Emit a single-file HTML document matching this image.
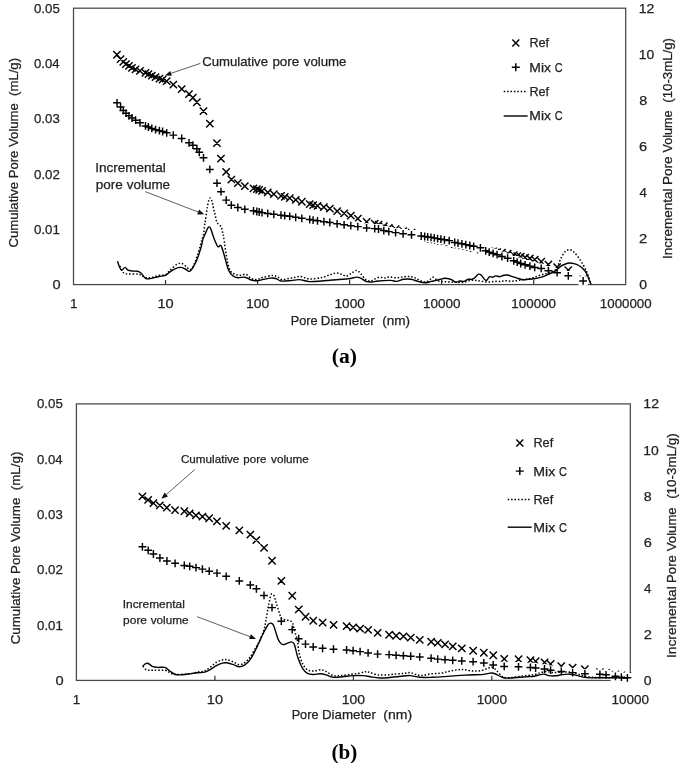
<!DOCTYPE html>
<html><head><meta charset="utf-8"><title>Pore volume</title>
<style>html,body{margin:0;padding:0;background:#fff}svg{display:block;will-change:transform}text{font-family:"Liberation Sans",sans-serif}</style>
</head><body>
<svg width="685" height="763" viewBox="0 0 685 763">
<rect width="685" height="763" fill="#fff"/>
<rect x="73.5" y="8.2" width="552.20" height="276.40" fill="none" stroke="#484848" stroke-width="1.25"/>
<path d="M165.5 284.6v-4.6M257.6 284.6v-4.6M349.6 284.6v-4.6M441.6 284.6v-4.6M533.7 284.6v-4.6" stroke="#333" stroke-width="1.2"/>
<path d="M113.3 51.1l7.3 7.3M113.3 58.4l7.3 -7.3M116.9 55.5l7.3 7.3M116.9 62.8l7.3 -7.3M119.6 58.2l7.3 7.3M119.6 65.5l7.3 -7.3M122.3 60.4l7.3 7.3M122.3 67.7l7.3 -7.3M125.3 62.3l7.3 7.3M125.3 69.6l7.3 -7.3M128.3 64.2l7.3 7.3M128.3 71.5l7.3 -7.3M131.9 65.7l7.3 7.3M131.9 73.0l7.3 -7.3M136.3 67.2l7.3 7.3M136.3 74.5l7.3 -7.3M141.8 69.3l7.3 7.3M141.8 76.6l7.3 -7.3M144.8 70.5l7.3 7.3M144.8 77.8l7.3 -7.3M148.2 71.9l7.3 7.3M148.2 79.2l7.3 -7.3M151.9 73.4l7.3 7.3M151.9 80.7l7.3 -7.3M155.8 75.0l7.3 7.3M155.8 82.3l7.3 -7.3M158.9 75.9l7.3 7.3M158.9 83.2l7.3 -7.3M163.0 77.5l7.3 7.3M163.0 84.8l7.3 -7.3M169.7 80.9l7.3 7.3M169.7 88.2l7.3 -7.3M178.0 85.3l7.3 7.3M178.0 92.7l7.3 -7.3M185.3 90.3l7.3 7.3M185.3 97.7l7.3 -7.3M189.2 94.0l7.3 7.3M189.2 101.4l7.3 -7.3M193.2 98.6l7.3 7.3M193.2 105.9l7.3 -7.3M199.8 107.4l7.3 7.3M199.8 114.8l7.3 -7.3M206.2 120.0l7.3 7.3M206.2 127.4l7.3 -7.3M213.3 139.5l7.3 7.3M213.3 146.8l7.3 -7.3M217.3 155.0l7.3 7.3M217.3 162.3l7.3 -7.3M222.5 168.2l7.3 7.3M222.5 175.5l7.3 -7.3M227.7 175.8l7.3 7.3M227.7 183.2l7.3 -7.3M234.2 179.5l7.3 7.3M234.2 186.8l7.3 -7.3M241.2 182.5l7.3 7.3M241.2 189.8l7.3 -7.3M249.8 184.7l7.3 7.3M249.8 192.0l7.3 -7.3M253.2 185.4l7.3 7.3M253.2 192.8l7.3 -7.3M255.5 186.3l7.3 7.3M255.5 193.6l7.3 -7.3M258.4 187.2l7.3 7.3M258.4 194.5l7.3 -7.3M264.1 188.8l7.3 7.3M264.1 196.1l7.3 -7.3M270.2 190.5l7.3 7.3M270.2 197.8l7.3 -7.3M277.4 192.2l7.3 7.3M277.4 199.6l7.3 -7.3M281.1 193.2l7.3 7.3M281.1 200.5l7.3 -7.3M286.1 194.5l7.3 7.3M286.1 201.8l7.3 -7.3M292.1 196.3l7.3 7.3M292.1 203.6l7.3 -7.3M298.2 198.1l7.3 7.3M298.2 205.4l7.3 -7.3M306.1 200.4l7.3 7.3M306.1 207.7l7.3 -7.3M309.5 201.5l7.3 7.3M309.5 208.8l7.3 -7.3M313.9 202.3l7.3 7.3M313.9 209.6l7.3 -7.3M320.2 203.5l7.3 7.3M320.2 210.8l7.3 -7.3M326.2 205.0l7.3 7.3M326.2 212.3l7.3 -7.3M333.5 207.4l7.3 7.3M333.5 214.7l7.3 -7.3M340.5 209.8l7.3 7.3M340.5 217.1l7.3 -7.3M347.2 212.0l7.3 7.3M347.2 219.3l7.3 -7.3M354.2 215.0l7.3 7.3M354.2 222.3l7.3 -7.3M363.0 218.3l7.3 7.3M363.0 225.6l7.3 -7.3M371.1 219.9l7.3 7.3M371.1 227.2l7.3 -7.3M374.9 221.0l7.3 7.3M374.9 228.3l7.3 -7.3M380.2 222.3l7.3 7.3M380.2 229.7l7.3 -7.3M385.2 224.2l7.3 7.3M385.2 231.5l7.3 -7.3M392.0 225.5l7.3 7.3M392.0 232.8l7.3 -7.3M399.5 227.3l7.3 7.3M399.5 234.7l7.3 -7.3M407.9 228.9l7.3 7.3M407.9 236.2l7.3 -7.3M417.6 232.2l7.3 7.3M417.6 239.5l7.3 -7.3M421.1 233.3l7.3 7.3M421.1 240.6l7.3 -7.3M424.1 234.2l7.3 7.3M424.1 241.5l7.3 -7.3M427.4 235.2l7.3 7.3M427.4 242.5l7.3 -7.3M430.7 235.8l7.3 7.3M430.7 243.1l7.3 -7.3M434.0 236.5l7.3 7.3M434.0 243.8l7.3 -7.3M437.2 237.2l7.3 7.3M437.2 244.5l7.3 -7.3M440.8 237.7l7.3 7.3M440.8 245.0l7.3 -7.3M445.6 238.5l7.3 7.3M445.6 245.8l7.3 -7.3M451.1 240.3l7.3 7.3M451.1 247.7l7.3 -7.3M454.4 241.0l7.3 7.3M454.4 248.3l7.3 -7.3M458.2 241.8l7.3 7.3M458.2 249.1l7.3 -7.3M462.2 242.5l7.3 7.3M462.2 249.8l7.3 -7.3M466.2 243.5l7.3 7.3M466.2 250.8l7.3 -7.3M470.1 244.3l7.3 7.3M470.1 251.7l7.3 -7.3M476.8 245.8l7.3 7.3M476.8 253.2l7.3 -7.3M482.1 246.7l7.3 7.3M482.1 254.0l7.3 -7.3M485.6 247.2l7.3 7.3M485.6 254.5l7.3 -7.3M489.5 247.8l7.3 7.3M489.5 255.1l7.3 -7.3M493.5 248.4l7.3 7.3M493.5 255.7l7.3 -7.3M498.2 249.0l7.3 7.3M498.2 256.3l7.3 -7.3M504.0 250.1l7.3 7.3M504.0 257.4l7.3 -7.3M510.1 251.6l7.3 7.3M510.1 258.9l7.3 -7.3M513.6 252.4l7.3 7.3M513.6 259.7l7.3 -7.3M517.1 253.2l7.3 7.3M517.1 260.4l7.3 -7.3M521.5 253.9l7.3 7.3M521.5 261.2l7.3 -7.3M526.2 254.8l7.3 7.3M526.2 262.1l7.3 -7.3M531.1 255.9l7.3 7.3M531.1 263.2l7.3 -7.3M537.6 258.1l7.3 7.3M537.6 265.4l7.3 -7.3M544.8 260.9l7.3 7.3M544.8 268.1l7.3 -7.3M553.5 263.5l7.3 7.3M553.5 270.8l7.3 -7.3M564.6 266.5l7.3 7.3M564.6 273.8l7.3 -7.3M579.5 275.7l7.3 7.3M579.5 282.9l7.3 -7.3" stroke="#000" stroke-width="1.45" fill="none"/>
<path d="M112.3 98.1h9.4v9.4h-9.4zM115.9 102.3h9.4v9.4h-9.4zM118.6 105.8h9.4v9.4h-9.4zM121.3 108.5h9.4v9.4h-9.4zM124.3 111.1h9.4v9.4h-9.4zM127.3 113.3h9.4v9.4h-9.4zM130.9 115.5h9.4v9.4h-9.4zM135.3 118.1h9.4v9.4h-9.4zM140.8 121.2h9.4v9.4h-9.4zM143.7 122.3h9.4v9.4h-9.4zM147.1 123.7h9.4v9.4h-9.4zM150.9 125.0h9.4v9.4h-9.4zM154.7 126.0h9.4v9.4h-9.4zM157.9 126.8h9.4v9.4h-9.4zM162.0 128.1h9.4v9.4h-9.4zM168.6 130.4h9.4v9.4h-9.4zM177.0 133.8h9.4v9.4h-9.4zM184.3 138.1h9.4v9.4h-9.4zM188.2 140.5h9.4v9.4h-9.4zM192.2 144.0h9.4v9.4h-9.4zM194.6 147.6h9.4v9.4h-9.4zM198.8 153.1h9.4v9.4h-9.4zM205.1 164.7h9.4v9.4h-9.4zM212.3 178.5h9.4v9.4h-9.4zM216.3 187.0h9.4v9.4h-9.4zM221.5 195.4h9.4v9.4h-9.4zM226.6 200.5h9.4v9.4h-9.4zM233.1 202.8h9.4v9.4h-9.4zM240.1 204.6h9.4v9.4h-9.4zM248.8 206.1h9.4v9.4h-9.4zM252.1 206.8h9.4v9.4h-9.4zM254.5 207.3h9.4v9.4h-9.4zM257.3 207.9h9.4v9.4h-9.4zM263.0 208.7h9.4v9.4h-9.4zM269.1 209.6h9.4v9.4h-9.4zM276.3 210.5h9.4v9.4h-9.4zM280.0 211.0h9.4v9.4h-9.4zM285.0 211.6h9.4v9.4h-9.4zM291.0 212.6h9.4v9.4h-9.4zM297.1 213.6h9.4v9.4h-9.4zM305.0 214.8h9.4v9.4h-9.4zM308.4 215.4h9.4v9.4h-9.4zM312.8 216.1h9.4v9.4h-9.4zM319.2 217.0h9.4v9.4h-9.4zM325.1 217.8h9.4v9.4h-9.4zM332.4 219.1h9.4v9.4h-9.4zM339.4 220.1h9.4v9.4h-9.4zM346.1 221.0h9.4v9.4h-9.4zM353.1 221.9h9.4v9.4h-9.4zM361.9 223.2h9.4v9.4h-9.4zM370.0 223.9h9.4v9.4h-9.4zM373.8 224.3h9.4v9.4h-9.4zM379.1 225.9h9.4v9.4h-9.4zM384.1 226.9h9.4v9.4h-9.4zM390.9 227.9h9.4v9.4h-9.4zM398.4 229.1h9.4v9.4h-9.4zM406.8 230.1h9.4v9.4h-9.4zM416.5 231.3h9.4v9.4h-9.4zM420.0 231.8h9.4v9.4h-9.4zM423.0 232.2h9.4v9.4h-9.4zM426.3 232.6h9.4v9.4h-9.4zM429.6 233.2h9.4v9.4h-9.4zM432.9 233.9h9.4v9.4h-9.4zM436.2 234.5h9.4v9.4h-9.4zM439.7 235.1h9.4v9.4h-9.4zM444.5 235.9h9.4v9.4h-9.4zM450.0 237.7h9.4v9.4h-9.4zM453.3 238.4h9.4v9.4h-9.4zM457.2 239.1h9.4v9.4h-9.4zM461.1 239.9h9.4v9.4h-9.4zM465.1 240.8h9.4v9.4h-9.4zM469.0 241.6h9.4v9.4h-9.4zM475.7 243.1h9.4v9.4h-9.4zM481.0 246.1h9.4v9.4h-9.4zM484.5 247.4h9.4v9.4h-9.4zM488.4 248.7h9.4v9.4h-9.4zM492.4 250.0h9.4v9.4h-9.4zM497.2 251.8h9.4v9.4h-9.4zM502.9 253.5h9.4v9.4h-9.4zM509.0 256.1h9.4v9.4h-9.4zM512.5 257.4h9.4v9.4h-9.4zM516.0 258.8h9.4v9.4h-9.4zM520.4 260.1h9.4v9.4h-9.4zM525.2 261.4h9.4v9.4h-9.4zM530.0 262.7h9.4v9.4h-9.4zM536.5 263.7h9.4v9.4h-9.4zM543.7 266.0h9.4v9.4h-9.4zM552.4 268.0h9.4v9.4h-9.4zM563.6 271.1h9.4v9.4h-9.4zM578.4 276.2h9.4v9.4h-9.4z" fill="#fff"/>
<path d="M113.1 102.8h7.8M117.0 98.9v7.8M116.7 107.0h7.8M120.6 103.1v7.8M119.4 110.5h7.8M123.3 106.6v7.8M122.1 113.2h7.8M126.0 109.3v7.8M125.1 115.8h7.8M129.0 111.9v7.8M128.1 118.0h7.8M132.0 114.1v7.8M131.7 120.2h7.8M135.6 116.3v7.8M136.1 122.8h7.8M140.0 118.9v7.8M141.6 125.9h7.8M145.5 122.0v7.8M144.5 127.0h7.8M148.4 123.1v7.8M147.9 128.4h7.8M151.8 124.5v7.8M151.7 129.7h7.8M155.6 125.8v7.8M155.5 130.7h7.8M159.4 126.8v7.8M158.7 131.5h7.8M162.6 127.6v7.8M162.8 132.8h7.8M166.7 128.9v7.8M169.4 135.1h7.8M173.3 131.2v7.8M177.8 138.5h7.8M181.7 134.6v7.8M185.1 142.8h7.8M189.0 138.9v7.8M189.0 145.2h7.8M192.9 141.3v7.8M193.0 148.7h7.8M196.9 144.8v7.8M195.4 152.3h7.8M199.3 148.4v7.8M199.6 157.8h7.8M203.5 153.9v7.8M205.9 169.4h7.8M209.8 165.5v7.8M213.1 183.2h7.8M217.0 179.3v7.8M217.1 191.7h7.8M221.0 187.8v7.8M222.3 200.1h7.8M226.2 196.2v7.8M227.4 205.2h7.8M231.3 201.3v7.8M233.9 207.5h7.8M237.8 203.6v7.8M240.9 209.3h7.8M244.8 205.4v7.8M249.6 210.8h7.8M253.5 206.9v7.8M252.9 211.5h7.8M256.8 207.6v7.8M255.3 212.0h7.8M259.2 208.1v7.8M258.1 212.6h7.8M262.0 208.7v7.8M263.8 213.4h7.8M267.7 209.5v7.8M269.9 214.3h7.8M273.8 210.4v7.8M277.1 215.2h7.8M281.0 211.3v7.8M280.8 215.7h7.8M284.7 211.8v7.8M285.8 216.3h7.8M289.7 212.4v7.8M291.8 217.3h7.8M295.7 213.4v7.8M297.9 218.3h7.8M301.8 214.4v7.8M305.8 219.5h7.8M309.7 215.6v7.8M309.2 220.1h7.8M313.1 216.2v7.8M313.6 220.8h7.8M317.5 216.9v7.8M320.0 221.7h7.8M323.9 217.8v7.8M325.9 222.5h7.8M329.8 218.6v7.8M333.2 223.8h7.8M337.1 219.9v7.8M340.2 224.8h7.8M344.1 220.9v7.8M346.9 225.7h7.8M350.8 221.8v7.8M353.9 226.6h7.8M357.8 222.7v7.8M362.7 227.9h7.8M366.6 224.0v7.8M370.8 228.6h7.8M374.7 224.7v7.8M374.6 229.0h7.8M378.5 225.1v7.8M379.9 230.6h7.8M383.8 226.7v7.8M384.9 231.6h7.8M388.8 227.7v7.8M391.7 232.6h7.8M395.6 228.7v7.8M399.2 233.8h7.8M403.1 229.9v7.8M407.6 234.8h7.8M411.5 230.9v7.8M417.3 236.0h7.8M421.2 232.1v7.8M420.8 236.5h7.8M424.7 232.6v7.8M423.8 236.9h7.8M427.7 233.0v7.8M427.1 237.3h7.8M431.0 233.4v7.8M430.4 237.9h7.8M434.3 234.0v7.8M433.7 238.6h7.8M437.6 234.7v7.8M437.0 239.2h7.8M440.9 235.3v7.8M440.5 239.8h7.8M444.4 235.9v7.8M445.3 240.6h7.8M449.2 236.7v7.8M450.8 242.4h7.8M454.7 238.5v7.8M454.1 243.1h7.8M458.0 239.2v7.8M458.0 243.8h7.8M461.9 239.9v7.8M461.9 244.6h7.8M465.8 240.7v7.8M465.9 245.5h7.8M469.8 241.6v7.8M469.8 246.3h7.8M473.7 242.4v7.8M476.5 247.8h7.8M480.4 243.9v7.8M481.8 250.8h7.8M485.7 246.9v7.8M485.3 252.1h7.8M489.2 248.2v7.8M489.2 253.4h7.8M493.1 249.5v7.8M493.2 254.7h7.8M497.1 250.8v7.8M498.0 256.5h7.8M501.9 252.6v7.8M503.7 258.2h7.8M507.6 254.3v7.8M509.8 260.8h7.8M513.7 256.9v7.8M513.3 262.1h7.8M517.2 258.2v7.8M516.8 263.5h7.8M520.7 259.6v7.8M521.2 264.8h7.8M525.1 260.9v7.8M526.0 266.1h7.8M529.9 262.2v7.8M530.8 267.4h7.8M534.7 263.5v7.8M537.3 268.4h7.8M541.2 264.5v7.8M544.5 270.7h7.8M548.4 266.8v7.8M553.2 272.7h7.8M557.1 268.8v7.8M564.4 275.8h7.8M568.3 271.9v7.8M579.2 280.9h7.8M583.1 277.0v7.8" stroke="#000" stroke-width="1.45" fill="none"/>
<path d="M120.0 266.0C120.4 266.9 121.2 270.1 122.2 271.4C123.2 272.7 124.1 273.3 125.7 273.7C127.3 274.1 129.8 273.9 132.0 274.0C134.2 274.1 136.9 273.9 138.6 274.2C140.3 274.5 140.7 275.3 142.0 275.9C143.3 276.5 145.0 277.4 146.7 277.7C148.4 278.0 150.1 277.9 152.0 277.5C153.9 277.1 156.2 276.1 158.4 275.6C160.6 275.1 163.5 275.5 165.4 274.6C167.3 273.7 168.1 271.9 170.0 270.2C171.9 268.5 175.1 265.4 177.1 264.3C179.1 263.2 180.2 263.2 181.8 263.6C183.4 264.0 185.0 265.7 186.4 266.7C187.8 267.7 188.8 269.9 190.0 269.7C191.2 269.5 192.2 267.9 193.5 265.5C194.8 263.1 196.3 258.8 197.6 255.0C198.8 251.2 200.3 245.7 201.0 243.0C201.7 240.3 201.7 240.1 202.0 238.9C202.3 237.7 202.8 237.2 203.1 236.0C203.4 234.8 203.7 233.8 203.9 232.0C204.2 230.2 204.4 226.8 204.6 225.0C204.8 223.2 205.0 223.1 205.3 221.4C205.6 219.7 205.9 217.1 206.2 214.8C206.5 212.6 206.8 210.2 207.2 207.9C207.6 205.6 208.1 202.7 208.6 201.0C209.1 199.3 209.8 197.9 210.3 197.9C210.9 197.9 211.5 199.9 211.9 201.0C212.3 202.1 212.4 202.9 212.8 204.6C213.2 206.3 213.7 209.5 214.1 211.2C214.5 212.9 214.8 213.1 215.2 214.8C215.6 216.5 216.0 219.8 216.6 221.4C217.2 223.0 217.8 223.5 218.5 224.3C219.2 225.2 220.4 225.6 221.0 226.5C221.6 227.4 221.8 228.7 222.1 229.8C222.4 231.0 222.6 232.2 222.8 233.4C223.1 234.6 222.8 232.1 223.6 236.7C224.3 241.3 226.1 255.0 227.3 260.8C228.5 266.6 229.4 269.1 230.8 271.4C232.2 273.7 233.9 273.8 235.5 274.4C237.1 275.0 238.4 275.3 240.2 275.3C241.9 275.3 244.2 273.9 246.0 274.4C247.8 274.9 249.3 277.6 251.2 278.5C253.1 279.4 255.5 279.7 257.4 279.5C259.3 279.3 259.9 278.2 262.5 277.5C265.1 276.8 270.1 275.6 272.7 275.5C275.2 275.4 276.3 276.3 277.8 277.0C279.3 277.7 279.7 279.4 281.9 279.6C284.1 279.8 287.9 278.6 291.0 278.1C294.1 277.6 297.2 276.4 300.3 276.5C303.4 276.6 305.9 278.8 309.5 279.0C313.1 279.2 318.4 278.2 321.8 277.5C325.2 276.8 327.5 275.6 329.9 274.9C332.3 274.1 334.1 273.1 336.1 273.0C338.2 272.9 340.5 274.0 342.2 274.5C343.9 275.0 344.8 276.3 346.3 276.1C347.8 275.9 349.7 274.3 351.4 273.4C353.1 272.4 355.0 270.4 356.5 270.4C358.0 270.4 359.1 271.9 360.6 273.4C362.1 274.9 364.0 278.3 365.7 279.6C367.4 280.9 369.4 281.1 370.8 281.0C372.2 280.9 372.7 279.9 374.1 279.3C375.5 278.7 377.5 277.5 379.2 277.3C380.9 277.1 382.6 278.0 384.3 277.9C386.0 277.8 387.3 276.9 389.4 276.9C391.4 276.9 394.2 277.9 396.6 277.9C399.0 277.9 401.3 276.9 403.7 276.7C406.1 276.5 408.8 276.4 410.9 276.7C412.9 277.0 414.3 277.6 416.0 278.3C417.7 279.0 419.4 280.4 421.1 281.0C422.8 281.6 424.7 282.3 426.2 282.0C427.7 281.7 429.1 280.1 430.3 279.3C431.5 278.5 432.2 277.1 433.4 277.3C434.6 277.5 436.1 279.7 437.5 280.4C438.9 281.1 438.1 281.1 441.5 281.4C444.9 281.7 454.1 282.2 457.9 282.4C461.6 282.6 461.9 282.7 464.0 282.4C466.1 282.1 468.1 280.7 470.2 280.4C472.2 280.1 474.3 280.2 476.3 280.4C478.3 280.6 480.3 281.1 482.4 281.4C484.4 281.7 486.6 282.0 488.6 282.0C490.7 282.0 492.7 281.5 494.7 281.4C496.7 281.3 499.0 281.5 500.8 281.4C502.6 281.3 503.9 280.7 505.7 280.7C507.5 280.7 509.5 281.2 511.4 281.2C513.3 281.2 515.2 280.9 517.1 280.7C519.0 280.4 520.9 280.0 522.8 279.7C524.7 279.4 526.6 279.2 528.5 278.8C530.4 278.4 532.2 278.0 534.2 277.4C536.2 276.8 538.4 275.7 540.8 275.0C543.2 274.3 546.0 273.8 548.4 273.0C550.8 272.2 553.4 271.4 555.0 270.2C556.6 268.9 556.9 267.4 557.9 265.5C558.9 263.6 559.6 261.0 560.7 258.8C561.8 256.6 563.1 253.7 564.5 252.2C565.9 250.7 567.7 249.7 569.3 249.7C570.9 249.7 572.4 250.8 574.0 252.2C575.6 253.6 577.2 255.7 578.8 257.9C580.4 260.1 582.2 263.3 583.5 265.5C584.8 267.7 585.6 269.4 586.4 271.2C587.2 272.9 587.7 274.2 588.3 276.0C588.9 277.8 589.8 280.4 590.2 281.7C590.7 283.0 590.9 283.6 591.0 284.0" fill="none" stroke="#000" stroke-width="1.5" stroke-dasharray="1.5 1.9"/>
<path d="M117.5 261.3C117.8 262.2 118.8 265.5 119.5 267.0C120.2 268.5 120.8 270.1 121.7 270.2C122.6 270.3 124.0 267.4 125.0 267.4C126.0 267.4 126.8 269.6 128.0 270.2C129.2 270.8 130.4 270.8 132.0 271.0C133.6 271.2 135.9 271.0 137.4 271.3C138.9 271.6 139.5 271.8 140.9 273.0C142.3 274.2 144.1 277.5 145.6 278.4C147.1 279.3 147.9 278.9 150.0 278.6C152.1 278.3 155.8 277.2 158.4 276.7C161.0 276.1 163.5 276.1 165.4 275.3C167.3 274.5 168.4 272.9 170.0 271.8C171.6 270.7 173.2 269.5 175.0 268.8C176.8 268.1 178.9 267.4 180.6 267.4C182.3 267.4 183.8 268.3 185.3 269.0C186.8 269.7 188.1 271.8 189.5 271.4C190.9 271.0 192.2 268.9 193.5 266.7C194.8 264.5 196.3 261.3 197.6 258.0C198.9 254.7 200.3 249.9 201.2 246.8C202.1 243.7 202.2 241.5 202.8 239.6C203.4 237.7 204.0 236.8 204.6 235.3C205.2 233.8 206.0 231.8 206.6 230.6C207.2 229.3 207.5 228.4 207.9 227.8C208.3 227.2 208.7 226.9 209.1 226.9C209.5 226.9 209.9 227.2 210.3 227.8C210.7 228.4 210.9 229.1 211.4 230.6C211.9 232.1 212.7 234.7 213.4 236.7C214.1 238.7 214.9 240.8 215.7 242.5C216.5 244.2 217.1 246.3 218.0 246.8C218.9 247.3 220.0 244.5 221.0 245.7C222.0 246.9 222.6 249.8 223.8 253.8C225.1 257.9 227.0 266.3 228.5 270.0C230.0 273.7 231.4 274.7 233.0 276.0C234.6 277.3 235.9 277.5 237.9 277.7C239.9 277.9 242.7 276.8 244.9 277.2C247.1 277.6 249.1 279.4 251.2 280.0C253.3 280.6 255.5 280.9 257.4 280.8C259.3 280.7 260.3 280.1 262.5 279.6C264.7 279.2 268.5 278.3 270.7 278.1C272.9 277.9 274.1 278.0 275.8 278.5C277.5 279.0 278.4 280.6 280.9 281.0C283.4 281.4 287.9 280.8 291.0 280.6C294.1 280.4 296.2 279.4 299.3 279.6C302.4 279.8 305.8 281.4 309.5 281.6C313.2 281.8 318.4 281.2 321.8 281.0C325.2 280.8 326.5 280.5 329.9 280.2C333.3 279.9 338.8 279.5 342.2 279.2C345.6 278.9 348.0 278.9 350.4 278.5C352.8 278.1 354.8 277.2 356.5 277.1C358.2 277.0 358.9 277.4 360.6 278.1C362.3 278.9 364.8 281.0 366.7 281.6C368.6 282.2 369.9 282.1 371.8 282.0C373.7 281.9 375.1 281.3 378.2 281.0C381.3 280.7 387.3 280.3 390.4 280.4C393.5 280.5 394.4 281.6 396.6 281.4C398.8 281.2 401.3 279.6 403.7 279.3C406.1 279.0 408.5 279.0 410.9 279.3C413.3 279.6 415.6 280.8 418.0 281.4C420.4 282.0 423.0 282.8 425.2 282.8C427.4 282.8 429.4 281.8 431.3 281.4C433.2 281.0 434.9 280.8 436.4 280.4C437.9 280.0 439.1 279.6 440.5 279.3C441.9 279.0 443.2 278.4 444.6 278.3C446.0 278.2 447.3 278.4 448.7 278.7C450.1 279.0 451.6 279.8 452.8 280.4C454.0 281.0 454.6 282.3 455.8 282.4C457.0 282.5 458.5 281.2 459.9 281.0C461.3 280.8 462.6 281.7 464.0 281.4C465.4 281.1 466.7 279.6 468.1 279.3C469.5 279.0 471.0 279.6 472.2 279.3C473.4 279.0 474.3 278.2 475.3 277.3C476.3 276.4 477.3 274.5 478.3 274.2C479.3 273.9 480.4 274.4 481.4 275.3C482.4 276.2 483.6 278.5 484.5 279.3C485.4 280.1 485.6 280.8 486.5 280.4C487.4 280.0 488.6 277.2 489.6 276.7C490.6 276.2 491.6 277.4 492.6 277.3C493.6 277.2 494.5 276.0 495.7 275.9C496.9 275.8 498.4 276.8 499.8 276.7C501.2 276.6 502.6 275.6 503.9 275.3C505.2 275.0 506.4 274.8 507.6 275.0C508.9 275.2 509.8 275.8 511.4 276.3C513.0 276.8 515.2 277.6 517.1 278.2C519.0 278.8 520.9 279.5 522.8 279.7C524.7 279.9 526.6 279.4 528.5 279.3C530.4 279.2 532.2 279.1 534.2 278.8C536.2 278.5 538.4 278.1 540.8 277.4C543.2 276.7 546.0 275.4 548.4 274.4C550.8 273.4 553.0 272.5 555.0 271.2C557.0 269.9 559.0 267.6 560.7 266.4C562.5 265.2 564.1 264.6 565.5 264.0C566.9 263.4 567.9 263.1 569.3 263.0C570.7 262.9 572.4 263.2 574.0 263.6C575.6 264.0 577.2 264.6 578.8 265.5C580.4 266.4 582.2 268.0 583.5 269.3C584.8 270.6 585.6 271.7 586.4 273.1C587.2 274.5 587.7 276.2 588.3 277.8C588.9 279.4 589.7 281.5 590.2 282.6C590.7 283.7 591.0 284.2 591.1 284.5" fill="none" stroke="#000" stroke-width="1.4"/>
<text x="52.43" y="289.1" font-size="13.6" text-anchor="start" fill="#222" textLength="8.14" lengthAdjust="spacingAndGlyphs" stroke="#222" stroke-width="0.25" xml:space="preserve">0</text>
<text x="34.03" y="233.8" font-size="13.6" text-anchor="start" fill="#222" textLength="25.82" lengthAdjust="spacingAndGlyphs" stroke="#222" stroke-width="0.25" xml:space="preserve">0.01</text>
<text x="34.03" y="178.5" font-size="13.6" text-anchor="start" fill="#222" textLength="25.84" lengthAdjust="spacingAndGlyphs" stroke="#222" stroke-width="0.25" xml:space="preserve">0.02</text>
<text x="34.03" y="123.3" font-size="13.6" text-anchor="start" fill="#222" textLength="25.75" lengthAdjust="spacingAndGlyphs" stroke="#222" stroke-width="0.25" xml:space="preserve">0.03</text>
<text x="34.04" y="68.0" font-size="13.6" text-anchor="start" fill="#222" textLength="25.55" lengthAdjust="spacingAndGlyphs" stroke="#222" stroke-width="0.25" xml:space="preserve">0.04</text>
<text x="34.03" y="12.7" font-size="13.6" text-anchor="start" fill="#222" textLength="25.72" lengthAdjust="spacingAndGlyphs" stroke="#222" stroke-width="0.25" xml:space="preserve">0.05</text>
<text x="639.25" y="289.1" font-size="13.6" text-anchor="start" fill="#222" textLength="7.79" lengthAdjust="spacingAndGlyphs" stroke="#222" stroke-width="0.25" xml:space="preserve">0</text>
<text x="639.06" y="243.0" font-size="13.6" text-anchor="start" fill="#222" textLength="8.18" lengthAdjust="spacingAndGlyphs" stroke="#222" stroke-width="0.25" xml:space="preserve">2</text>
<text x="639.49" y="197.0" font-size="13.6" text-anchor="start" fill="#222" textLength="7.39" lengthAdjust="spacingAndGlyphs" stroke="#222" stroke-width="0.25" xml:space="preserve">4</text>
<text x="639.06" y="150.9" font-size="13.6" text-anchor="start" fill="#222" textLength="8.08" lengthAdjust="spacingAndGlyphs" stroke="#222" stroke-width="0.25" xml:space="preserve">6</text>
<text x="639.18" y="104.8" font-size="13.6" text-anchor="start" fill="#222" textLength="7.94" lengthAdjust="spacingAndGlyphs" stroke="#222" stroke-width="0.25" xml:space="preserve">8</text>
<text x="638.74" y="58.8" font-size="13.6" text-anchor="start" fill="#222" textLength="15.51" lengthAdjust="spacingAndGlyphs" stroke="#222" stroke-width="0.25" xml:space="preserve">10</text>
<text x="638.73" y="12.7" font-size="13.6" text-anchor="start" fill="#222" textLength="15.68" lengthAdjust="spacingAndGlyphs" stroke="#222" stroke-width="0.25" xml:space="preserve">12</text>
<text x="69.88" y="307.9" font-size="13.6" text-anchor="start" fill="#222" textLength="7.48" lengthAdjust="spacingAndGlyphs" stroke="#222" stroke-width="0.25" xml:space="preserve">1</text>
<text x="157.46" y="307.9" font-size="13.6" text-anchor="start" fill="#222" textLength="16.2" lengthAdjust="spacingAndGlyphs" stroke="#222" stroke-width="0.25" xml:space="preserve">10</text>
<text x="245.96" y="307.9" font-size="13.6" text-anchor="start" fill="#222" textLength="23.29" lengthAdjust="spacingAndGlyphs" stroke="#222" stroke-width="0.25" xml:space="preserve">100</text>
<text x="334.44" y="307.9" font-size="13.6" text-anchor="start" fill="#222" textLength="30.42" lengthAdjust="spacingAndGlyphs" stroke="#222" stroke-width="0.25" xml:space="preserve">1000</text>
<text x="422.9" y="307.9" font-size="13.6" text-anchor="start" fill="#222" textLength="37.56" lengthAdjust="spacingAndGlyphs" stroke="#222" stroke-width="0.25" xml:space="preserve">10000</text>
<text x="511.37" y="307.9" font-size="13.6" text-anchor="start" fill="#222" textLength="44.7" lengthAdjust="spacingAndGlyphs" stroke="#222" stroke-width="0.25" xml:space="preserve">100000</text>
<text x="599.83" y="307.9" font-size="13.6" text-anchor="start" fill="#222" textLength="51.85" lengthAdjust="spacingAndGlyphs" stroke="#222" stroke-width="0.25" xml:space="preserve">1000000</text>
<text x="18.3" y="247.56" font-size="13.2" text-anchor="start" fill="#222" textLength="189.57" lengthAdjust="spacingAndGlyphs" transform="rotate(-90 18.3 247.56)" stroke="#222" stroke-width="0.25" xml:space="preserve">Cumulative Pore Volume  (mL/g)</text>
<text x="672.1" y="259.04" font-size="13.2" text-anchor="start" fill="#222" textLength="70.45" lengthAdjust="spacingAndGlyphs" transform="rotate(-90 672.1 259.04)" stroke="#222" stroke-width="0.25" xml:space="preserve">Incremental</text>
<text x="672.1" y="185.01" font-size="13.2" text-anchor="start" fill="#222" textLength="28.61" lengthAdjust="spacingAndGlyphs" transform="rotate(-90 672.1 185.01)" stroke="#222" stroke-width="0.25" xml:space="preserve">Pore</text>
<text x="672.1" y="152.45" font-size="13.2" text-anchor="start" fill="#222" textLength="42.11" lengthAdjust="spacingAndGlyphs" transform="rotate(-90 672.1 152.45)" stroke="#222" stroke-width="0.25" xml:space="preserve">Volume</text>
<text x="672.1" y="102.72" font-size="13.2" text-anchor="start" fill="#222" textLength="64.74" lengthAdjust="spacingAndGlyphs" transform="rotate(-90 672.1 102.72)" stroke="#222" stroke-width="0.25" xml:space="preserve">(10-3mL/g)</text>
<text x="290.65" y="324.9" font-size="13.2" text-anchor="start" fill="#222" textLength="26.91" lengthAdjust="spacingAndGlyphs" stroke="#222" stroke-width="0.25" xml:space="preserve">Pore</text>
<text x="320.81" y="324.9" font-size="13.2" text-anchor="start" fill="#222" textLength="53.91" lengthAdjust="spacingAndGlyphs" stroke="#222" stroke-width="0.25" xml:space="preserve">Diameter</text>
<text x="382.16" y="324.9" font-size="13.2" text-anchor="start" fill="#222" textLength="27.88" lengthAdjust="spacingAndGlyphs" stroke="#222" stroke-width="0.25" xml:space="preserve">(nm)</text>
<text x="331.85" y="362.8" font-size="20.5" text-anchor="start" fill="#000" style="font-family:'Liberation Serif',serif" font-weight="bold" textLength="25.2" lengthAdjust="spacingAndGlyphs" xml:space="preserve">(a)</text>
<text x="202.23" y="65.8" font-size="13.2" text-anchor="start" fill="#222" textLength="65.75" lengthAdjust="spacingAndGlyphs" stroke="#222" stroke-width="0.25" xml:space="preserve">Cumulative</text>
<text x="272.44" y="65.8" font-size="13.2" text-anchor="start" fill="#222" textLength="26.76" lengthAdjust="spacingAndGlyphs" stroke="#222" stroke-width="0.25" xml:space="preserve">pore</text>
<text x="303.85" y="65.8" font-size="13.2" text-anchor="start" fill="#222" textLength="42.63" lengthAdjust="spacingAndGlyphs" stroke="#222" stroke-width="0.25" xml:space="preserve">volume</text>
<line x1="200.4" y1="63.4" x2="171.1" y2="73.3" stroke="#333" stroke-width="0.8"/>
<path d="M164.9 75.4L170.2 70.9L171.9 75.8z" fill="#111"/>
<text x="95.36" y="172.2" font-size="13.2" text-anchor="start" fill="#222" textLength="70.45" lengthAdjust="spacingAndGlyphs" stroke="#222" stroke-width="0.25" xml:space="preserve">Incremental</text>
<text x="95.73" y="189.3" font-size="13.2" text-anchor="start" fill="#222" textLength="27.07" lengthAdjust="spacingAndGlyphs" stroke="#222" stroke-width="0.25" xml:space="preserve">pore</text>
<text x="126.75" y="189.3" font-size="13.2" text-anchor="start" fill="#222" textLength="43.34" lengthAdjust="spacingAndGlyphs" stroke="#222" stroke-width="0.25" xml:space="preserve">volume</text>
<line x1="145.2" y1="191.6" x2="198.1" y2="212.0" stroke="#333" stroke-width="0.8"/>
<path d="M204.2 214.3L197.2 214.4L199.1 209.5z" fill="#111"/>
<path d="M512.3 39.6l7.0 7.0M512.3 46.6l7.0 -7.0" stroke="#000" stroke-width="1.45" fill="none"/>
<text x="529.41" y="47.3" font-size="13.2" text-anchor="start" fill="#222" textLength="19.72" lengthAdjust="spacingAndGlyphs" stroke="#222" stroke-width="0.25" xml:space="preserve">Ref</text>
<path d="M515.8 67.2h0.0v0.0h0.0z" fill="#fff"/>
<path d="M511.8 67.2h8.0M515.8 63.2v8.0" stroke="#000" stroke-width="1.45" fill="none"/>
<text x="529.31" y="71.5" font-size="13.2" text-anchor="start" fill="#222" textLength="21.64" lengthAdjust="spacingAndGlyphs" stroke="#222" stroke-width="0.25" xml:space="preserve">Mix</text>
<text x="554.65" y="71.5" font-size="13.2" text-anchor="start" fill="#222" textLength="7.87" lengthAdjust="spacingAndGlyphs" stroke="#222" stroke-width="0.25" xml:space="preserve">C</text>
<path d="M503.7 91.5H526" stroke="#000" stroke-width="1.5" stroke-dasharray="1.5 1.9"/>
<text x="529.41" y="95.8" font-size="13.2" text-anchor="start" fill="#222" textLength="19.72" lengthAdjust="spacingAndGlyphs" stroke="#222" stroke-width="0.25" xml:space="preserve">Ref</text>
<path d="M503.7 116H527.7" stroke="#000" stroke-width="1.4"/>
<text x="529.31" y="120.4" font-size="13.2" text-anchor="start" fill="#222" textLength="21.64" lengthAdjust="spacingAndGlyphs" stroke="#222" stroke-width="0.25" xml:space="preserve">Mix</text>
<text x="554.65" y="120.4" font-size="13.2" text-anchor="start" fill="#222" textLength="7.87" lengthAdjust="spacingAndGlyphs" stroke="#222" stroke-width="0.25" xml:space="preserve">C</text>
<rect x="76.4" y="403.9" width="553.90" height="276.50" fill="none" stroke="#484848" stroke-width="1.25"/>
<path d="M214.9 680.4v-4.6M353.4 680.4v-4.6M491.8 680.4v-4.6" stroke="#333" stroke-width="1.2"/>
<path d="M138.8 492.9l7.3 7.3M138.8 500.1l7.3 -7.3M144.5 496.4l7.3 7.3M144.5 503.6l7.3 -7.3M149.8 499.5l7.3 7.3M149.8 506.8l7.3 -7.3M156.2 501.8l7.3 7.3M156.2 509.0l7.3 -7.3M163.2 504.1l7.3 7.3M163.2 511.3l7.3 -7.3M171.4 506.5l7.3 7.3M171.4 513.8l7.3 -7.3M180.7 507.6l7.3 7.3M180.7 514.9l7.3 -7.3M186.0 509.8l7.3 7.3M186.0 517.1l7.3 -7.3M192.3 511.8l7.3 7.3M192.3 519.1l7.3 -7.3M198.8 512.9l7.3 7.3M198.8 520.2l7.3 -7.3M205.5 514.6l7.3 7.3M205.5 521.9l7.3 -7.3M213.3 517.7l7.3 7.3M213.3 525.0l7.3 -7.3M222.5 522.2l7.3 7.3M222.5 529.5l7.3 -7.3M235.7 526.8l7.3 7.3M235.7 534.0l7.3 -7.3M246.7 531.0l7.3 7.3M246.7 538.2l7.3 -7.3M252.7 536.4l7.3 7.3M252.7 543.7l7.3 -7.3M260.4 544.2l7.3 7.3M260.4 551.5l7.3 -7.3M268.4 557.1l7.3 7.3M268.4 564.4l7.3 -7.3M277.7 577.4l7.3 7.3M277.7 584.6l7.3 -7.3M288.6 592.1l7.3 7.3M288.6 599.4l7.3 -7.3M295.1 605.9l7.3 7.3M295.1 613.1l7.3 -7.3M301.9 613.1l7.3 7.3M301.9 620.4l7.3 -7.3M309.6 617.1l7.3 7.3M309.6 624.4l7.3 -7.3M319.0 619.0l7.3 7.3M319.0 626.2l7.3 -7.3M329.9 621.2l7.3 7.3M329.9 628.5l7.3 -7.3M343.0 622.5l7.3 7.3M343.0 629.8l7.3 -7.3M349.5 623.8l7.3 7.3M349.5 631.1l7.3 -7.3M356.5 624.9l7.3 7.3M356.5 632.2l7.3 -7.3M364.5 626.3l7.3 7.3M364.5 633.6l7.3 -7.3M374.0 629.3l7.3 7.3M374.0 636.6l7.3 -7.3M385.5 631.1l7.3 7.3M385.5 638.4l7.3 -7.3M392.5 632.1l7.3 7.3M392.5 639.4l7.3 -7.3M399.8 632.8l7.3 7.3M399.8 640.1l7.3 -7.3M407.1 634.0l7.3 7.3M407.1 641.3l7.3 -7.3M416.1 636.2l7.3 7.3M416.1 643.5l7.3 -7.3M427.5 638.1l7.3 7.3M427.5 645.4l7.3 -7.3M434.1 639.2l7.3 7.3M434.1 646.5l7.3 -7.3M441.4 640.8l7.3 7.3M441.4 648.1l7.3 -7.3M449.1 642.8l7.3 7.3M449.1 650.0l7.3 -7.3M458.2 644.7l7.3 7.3M458.2 652.0l7.3 -7.3M469.5 647.1l7.3 7.3M469.5 654.4l7.3 -7.3M480.2 649.1l7.3 7.3M480.2 656.4l7.3 -7.3M489.6 651.6l7.3 7.3M489.6 658.9l7.3 -7.3M500.6 655.2l7.3 7.3M500.6 662.5l7.3 -7.3M514.9 655.6l7.3 7.3M514.9 662.9l7.3 -7.3M526.8 656.6l7.3 7.3M526.8 663.9l7.3 -7.3M532.0 657.6l7.3 7.3M532.0 664.9l7.3 -7.3M540.9 658.8l7.3 7.3M540.9 666.0l7.3 -7.3M547.0 660.4l7.3 7.3M547.0 667.6l7.3 -7.3M557.6 662.5l7.3 7.3M557.6 669.8l7.3 -7.3M569.0 664.1l7.3 7.3M569.0 671.4l7.3 -7.3M581.2 665.6l7.3 7.3M581.2 672.9l7.3 -7.3M596.2 668.6l7.3 7.3M596.2 675.9l7.3 -7.3M602.4 669.4l7.3 7.3M602.4 676.6l7.3 -7.3M611.8 670.9l7.3 7.3M611.8 678.1l7.3 -7.3M617.8 671.9l7.3 7.3M617.8 679.1l7.3 -7.3M623.8 672.6l7.3 7.3M623.8 679.9l7.3 -7.3" stroke="#000" stroke-width="1.45" fill="none"/>
<path d="M137.7 542.1h9.4v9.4h-9.4zM143.5 545.6h9.4v9.4h-9.4zM148.7 549.3h9.4v9.4h-9.4zM155.2 553.3h9.4v9.4h-9.4zM162.2 556.3h9.4v9.4h-9.4zM170.4 558.6h9.4v9.4h-9.4zM179.6 560.7h9.4v9.4h-9.4zM185.0 561.6h9.4v9.4h-9.4zM191.3 562.9h9.4v9.4h-9.4zM197.7 564.4h9.4v9.4h-9.4zM204.5 566.5h9.4v9.4h-9.4zM212.3 568.4h9.4v9.4h-9.4zM221.5 571.6h9.4v9.4h-9.4zM234.6 576.2h9.4v9.4h-9.4zM245.6 580.3h9.4v9.4h-9.4zM251.7 584.1h9.4v9.4h-9.4zM259.3 590.7h9.4v9.4h-9.4zM267.3 602.9h9.4v9.4h-9.4zM276.6 616.5h9.4v9.4h-9.4zM287.5 624.9h9.4v9.4h-9.4zM294.0 634.0h9.4v9.4h-9.4zM300.8 639.4h9.4v9.4h-9.4zM308.5 642.2h9.4v9.4h-9.4zM317.9 643.6h9.4v9.4h-9.4zM328.8 644.5h9.4v9.4h-9.4zM341.9 645.2h9.4v9.4h-9.4zM348.4 646.0h9.4v9.4h-9.4zM355.4 646.9h9.4v9.4h-9.4zM363.4 648.2h9.4v9.4h-9.4zM372.9 649.4h9.4v9.4h-9.4zM384.4 649.9h9.4v9.4h-9.4zM391.4 650.6h9.4v9.4h-9.4zM398.7 651.0h9.4v9.4h-9.4zM406.0 651.5h9.4v9.4h-9.4zM415.0 652.2h9.4v9.4h-9.4zM426.4 653.5h9.4v9.4h-9.4zM433.0 654.4h9.4v9.4h-9.4zM440.3 655.0h9.4v9.4h-9.4zM448.0 655.6h9.4v9.4h-9.4zM457.1 656.2h9.4v9.4h-9.4zM468.4 657.0h9.4v9.4h-9.4zM479.1 658.2h9.4v9.4h-9.4zM488.5 660.3h9.4v9.4h-9.4zM499.5 661.7h9.4v9.4h-9.4zM513.8 662.1h9.4v9.4h-9.4zM525.7 662.7h9.4v9.4h-9.4zM530.9 663.3h9.4v9.4h-9.4zM539.8 664.3h9.4v9.4h-9.4zM545.9 665.5h9.4v9.4h-9.4zM556.6 666.7h9.4v9.4h-9.4zM567.9 667.9h9.4v9.4h-9.4zM580.2 669.0h9.4v9.4h-9.4zM595.2 669.6h9.4v9.4h-9.4zM601.3 670.1h9.4v9.4h-9.4zM610.7 671.6h9.4v9.4h-9.4zM616.7 672.4h9.4v9.4h-9.4zM622.7 673.1h9.4v9.4h-9.4z" fill="#fff"/>
<path d="M138.5 546.8h7.8M142.4 542.9v7.8M144.3 550.3h7.8M148.2 546.4v7.8M149.5 554.0h7.8M153.4 550.1v7.8M156.0 558.0h7.8M159.9 554.1v7.8M163.0 561.0h7.8M166.9 557.1v7.8M171.2 563.3h7.8M175.1 559.4v7.8M180.4 565.4h7.8M184.3 561.5v7.8M185.8 566.3h7.8M189.7 562.4v7.8M192.1 567.6h7.8M196.0 563.7v7.8M198.5 569.1h7.8M202.4 565.2v7.8M205.3 571.2h7.8M209.2 567.3v7.8M213.1 573.1h7.8M217.0 569.2v7.8M222.3 576.3h7.8M226.2 572.4v7.8M235.4 580.9h7.8M239.3 577.0v7.8M246.4 585.0h7.8M250.3 581.1v7.8M252.5 588.8h7.8M256.4 584.9v7.8M260.1 595.4h7.8M264.0 591.5v7.8M268.1 607.6h7.8M272.0 603.7v7.8M277.4 621.2h7.8M281.3 617.3v7.8M288.3 629.6h7.8M292.2 625.7v7.8M294.8 638.7h7.8M298.7 634.8v7.8M301.6 644.1h7.8M305.5 640.2v7.8M309.3 646.9h7.8M313.2 643.0v7.8M318.7 648.3h7.8M322.6 644.4v7.8M329.6 649.2h7.8M333.5 645.3v7.8M342.7 649.9h7.8M346.6 646.0v7.8M349.2 650.7h7.8M353.1 646.8v7.8M356.2 651.6h7.8M360.1 647.7v7.8M364.2 652.9h7.8M368.1 649.0v7.8M373.7 654.1h7.8M377.6 650.2v7.8M385.2 654.6h7.8M389.1 650.7v7.8M392.2 655.3h7.8M396.1 651.4v7.8M399.5 655.7h7.8M403.4 651.8v7.8M406.8 656.2h7.8M410.7 652.3v7.8M415.8 656.9h7.8M419.7 653.0v7.8M427.2 658.2h7.8M431.1 654.3v7.8M433.8 659.1h7.8M437.7 655.2v7.8M441.1 659.7h7.8M445.0 655.8v7.8M448.8 660.3h7.8M452.7 656.4v7.8M457.9 660.9h7.8M461.8 657.0v7.8M469.2 661.7h7.8M473.1 657.8v7.8M479.9 662.9h7.8M483.8 659.0v7.8M489.3 665.0h7.8M493.2 661.1v7.8M500.3 666.4h7.8M504.2 662.5v7.8M514.6 666.8h7.8M518.5 662.9v7.8M526.5 667.4h7.8M530.4 663.5v7.8M531.7 668.0h7.8M535.6 664.1v7.8M540.6 669.0h7.8M544.5 665.1v7.8M546.7 670.2h7.8M550.6 666.3v7.8M557.4 671.4h7.8M561.3 667.5v7.8M568.7 672.6h7.8M572.6 668.7v7.8M581.0 673.7h7.8M584.9 669.8v7.8M596.0 674.3h7.8M599.9 670.4v7.8M602.1 674.8h7.8M606.0 670.9v7.8M611.5 676.3h7.8M615.4 672.4v7.8M617.5 677.1h7.8M621.4 673.2v7.8M623.5 677.8h7.8M627.4 673.9v7.8" stroke="#000" stroke-width="1.45" fill="none"/>
<path d="M142.8 666.3C143.4 666.9 144.6 669.1 146.4 669.8C148.2 670.5 150.3 670.2 153.4 670.3C156.5 670.4 162.3 669.9 165.0 670.3C167.7 670.7 168.1 671.9 169.7 672.6C171.3 673.3 171.3 674.3 174.4 674.5C177.5 674.7 184.5 674.2 188.4 673.8C192.3 673.4 195.0 672.6 197.7 672.1C200.4 671.6 202.5 671.9 204.7 671.0C206.8 670.1 208.6 668.5 210.6 667.0C212.6 665.5 214.4 663.5 216.4 662.3C218.4 661.1 220.6 660.4 222.3 660.0C224.1 659.6 225.2 659.4 226.9 659.7C228.7 660.0 230.9 660.8 232.8 661.6C234.8 662.4 236.7 664.4 238.6 664.6C240.5 664.8 242.6 664.1 244.5 662.8C246.4 661.5 248.4 659.5 250.3 656.9C252.2 654.3 254.7 649.5 256.1 647.0C257.6 644.5 257.7 644.6 259.0 641.9C260.3 639.1 262.6 634.1 263.8 630.5C265.0 626.9 265.3 623.6 266.0 620.0C266.7 616.4 267.3 611.8 267.9 608.6C268.5 605.4 268.9 603.2 269.5 600.8C270.1 598.4 270.6 595.1 271.3 594.2C272.0 593.3 273.2 594.4 273.9 595.5C274.6 596.6 275.0 598.9 275.6 600.8C276.2 602.7 276.7 604.7 277.4 606.9C278.1 609.1 278.9 611.9 279.6 613.9C280.3 615.9 280.7 617.7 281.8 618.7C282.9 619.7 284.8 619.6 286.2 620.0C287.6 620.4 289.4 620.3 290.5 620.9C291.6 621.5 292.1 622.2 292.7 623.5C293.3 624.8 293.5 626.9 294.0 628.8C294.5 630.7 295.2 632.9 295.8 634.9C296.4 636.9 296.9 637.9 297.5 641.0C298.1 644.1 298.3 649.6 299.2 653.4C300.1 657.2 301.3 661.2 302.7 663.9C304.1 666.6 305.6 668.6 307.4 669.8C309.1 671.0 310.9 671.0 313.2 671.0C315.5 671.0 319.1 669.6 321.4 669.8C323.7 670.0 325.2 671.1 327.2 672.1C329.1 673.1 331.0 675.0 333.1 675.6C335.2 676.2 337.4 675.8 340.1 675.6C342.8 675.4 346.3 674.9 349.4 674.5C352.5 674.1 356.1 673.8 358.8 673.3C361.5 672.8 363.9 671.8 365.8 671.7C367.7 671.6 368.4 672.1 370.4 672.6C372.3 673.1 374.8 674.5 377.5 674.9C380.2 675.3 383.7 675.0 386.8 674.9C389.9 674.8 393.2 674.3 396.1 674.0C399.0 673.7 402.0 673.5 404.3 673.3C406.6 673.1 408.2 672.4 410.2 672.6C412.1 672.8 414.1 674.0 416.0 674.5C417.9 675.0 419.4 675.7 421.8 675.6C424.2 675.5 427.1 674.4 430.2 674.0C433.3 673.6 437.3 673.6 440.4 673.2C443.5 672.8 445.9 672.0 448.6 671.5C451.3 671.0 454.4 670.2 456.8 669.9C459.2 669.6 460.9 669.4 462.9 669.5C464.9 669.6 466.9 670.2 469.0 670.5C471.1 670.8 473.1 671.1 475.2 671.1C477.2 671.1 479.3 670.9 481.3 670.5C483.3 670.1 485.7 669.1 487.4 668.5C489.1 667.9 490.1 666.8 491.5 667.0C492.9 667.2 494.2 668.3 495.6 669.5C497.0 670.7 498.3 672.7 499.7 674.0C501.1 675.3 502.1 676.7 503.8 677.3C505.5 677.9 507.5 677.8 509.9 677.7C512.3 677.6 515.4 677.0 518.1 676.6C520.8 676.2 523.6 675.9 526.3 675.6C529.0 675.3 532.0 675.1 534.4 674.6C536.8 674.1 538.5 673.1 540.6 672.6C542.7 672.1 544.7 671.5 546.7 671.5C548.7 671.5 550.2 672.5 552.8 672.6C555.4 672.7 559.2 672.2 562.1 672.1C565.0 672.0 567.6 671.8 570.0 672.1C572.4 672.4 574.4 673.1 576.6 673.7C578.8 674.3 580.9 675.2 583.0 675.8C585.1 676.4 586.6 676.8 589.4 677.1C592.2 677.4 593.7 677.4 600.0 677.5C606.3 677.6 622.5 677.9 627.0 678.0" fill="none" stroke="#000" stroke-width="1.5" stroke-dasharray="1.5 1.9"/>
<path d="M142.8 666.3C143.2 665.9 144.2 664.5 145.0 664.0C145.8 663.5 146.7 663.1 147.5 663.2C148.3 663.3 149.2 664.1 150.0 664.6C150.8 665.1 150.9 665.8 152.2 666.3C153.5 666.8 155.9 667.2 158.0 667.4C160.1 667.6 163.1 666.8 165.0 667.4C166.9 668.0 168.1 669.9 169.7 671.0C171.3 672.1 172.8 673.4 174.4 674.0C176.0 674.6 176.8 674.9 179.1 674.9C181.4 674.9 185.3 674.4 188.4 674.0C191.5 673.6 195.0 673.1 197.7 672.8C200.4 672.5 202.5 672.7 204.7 672.1C206.8 671.5 208.6 670.4 210.6 669.3C212.6 668.2 214.4 666.6 216.4 665.6C218.4 664.6 220.6 663.7 222.3 663.2C224.1 662.7 225.2 662.6 226.9 662.8C228.7 663.0 230.9 663.8 232.8 664.4C234.8 665.0 236.7 666.6 238.6 666.7C240.5 666.8 242.6 666.3 244.5 665.1C246.4 663.9 248.4 662.0 250.3 659.3C252.2 656.6 254.8 651.3 256.1 648.8C257.4 646.3 256.8 647.2 258.1 644.5C259.4 641.8 262.2 635.5 263.8 632.3C265.4 629.1 266.7 626.8 267.6 625.3C268.5 623.8 268.8 623.9 269.3 623.5C269.8 623.1 270.3 623.1 270.8 623.1C271.3 623.1 271.7 623.2 272.2 623.7C272.7 624.2 273.1 624.5 273.7 625.8C274.3 627.1 274.9 629.3 275.6 631.4C276.3 633.5 277.1 636.6 277.8 638.4C278.5 640.2 279.2 641.4 280.0 642.4C280.8 643.4 281.5 644.4 282.7 644.6C283.9 644.8 285.6 643.9 287.0 643.4C288.4 642.9 290.3 641.9 291.4 641.9C292.5 641.9 293.0 642.4 293.6 643.2C294.2 644.0 294.3 644.0 295.0 646.5C295.7 649.0 296.7 654.4 298.0 658.1C299.3 661.8 301.1 666.1 302.7 668.6C304.3 671.1 305.6 672.3 307.4 673.3C309.1 674.3 311.1 674.4 313.2 674.5C315.3 674.6 318.0 673.7 320.2 673.8C322.4 673.9 324.0 674.3 326.1 674.9C328.2 675.5 330.4 677.0 333.1 677.3C335.8 677.6 339.1 677.1 342.4 676.8C345.7 676.5 349.4 675.8 352.9 675.6C356.4 675.4 360.5 675.4 363.4 675.6C366.3 675.8 367.7 676.4 370.4 676.8C373.1 677.2 376.3 677.9 379.8 678.0C383.3 678.1 388.0 677.6 391.5 677.3C395.0 677.0 397.7 676.6 400.8 676.3C403.9 676.0 407.1 675.4 410.2 675.6C413.3 675.8 415.8 677.0 419.5 677.3C423.2 677.6 428.1 677.4 432.3 677.3C436.5 677.2 440.4 676.9 444.5 676.6C448.6 676.3 452.7 675.9 456.8 675.6C460.9 675.3 464.9 675.2 469.0 675.0C473.1 674.8 478.2 674.8 481.3 674.6C484.4 674.4 485.7 673.9 487.4 673.6C489.1 673.3 490.1 672.9 491.5 673.0C492.9 673.1 494.1 673.4 495.6 674.0C497.1 674.6 499.0 675.9 500.7 676.6C502.4 677.3 503.6 677.9 505.8 678.1C508.0 678.3 510.6 677.9 514.0 677.7C517.4 677.5 522.9 677.0 526.3 676.8C529.7 676.5 532.0 676.6 534.4 676.2C536.8 675.8 538.9 674.9 540.6 674.6C542.3 674.3 543.3 674.0 544.7 674.2C546.1 674.4 547.0 675.3 548.8 675.6C550.6 675.9 553.5 676.0 555.7 675.8C557.9 675.6 559.7 674.9 562.1 674.6C564.5 674.3 567.7 674.1 570.1 674.2C572.5 674.3 574.5 674.9 576.6 675.4C578.8 675.9 580.6 676.7 583.0 677.1C585.4 677.5 588.3 677.8 591.0 677.9C593.7 678.0 595.9 677.7 599.1 677.7C602.3 677.7 605.4 677.7 610.0 677.7C614.6 677.8 624.2 678.0 627.0 678.0" fill="none" stroke="#000" stroke-width="1.4"/>
<text x="55.43" y="684.9" font-size="13.6" text-anchor="start" fill="#222" textLength="8.14" lengthAdjust="spacingAndGlyphs" stroke="#222" stroke-width="0.25" xml:space="preserve">0</text>
<text x="37.03" y="629.6" font-size="13.6" text-anchor="start" fill="#222" textLength="25.82" lengthAdjust="spacingAndGlyphs" stroke="#222" stroke-width="0.25" xml:space="preserve">0.01</text>
<text x="37.03" y="574.3" font-size="13.6" text-anchor="start" fill="#222" textLength="25.84" lengthAdjust="spacingAndGlyphs" stroke="#222" stroke-width="0.25" xml:space="preserve">0.02</text>
<text x="37.03" y="519.0" font-size="13.6" text-anchor="start" fill="#222" textLength="25.75" lengthAdjust="spacingAndGlyphs" stroke="#222" stroke-width="0.25" xml:space="preserve">0.03</text>
<text x="37.04" y="463.7" font-size="13.6" text-anchor="start" fill="#222" textLength="25.55" lengthAdjust="spacingAndGlyphs" stroke="#222" stroke-width="0.25" xml:space="preserve">0.04</text>
<text x="37.03" y="408.4" font-size="13.6" text-anchor="start" fill="#222" textLength="25.72" lengthAdjust="spacingAndGlyphs" stroke="#222" stroke-width="0.25" xml:space="preserve">0.05</text>
<text x="643.85" y="684.9" font-size="13.6" text-anchor="start" fill="#222" textLength="7.79" lengthAdjust="spacingAndGlyphs" stroke="#222" stroke-width="0.25" xml:space="preserve">0</text>
<text x="643.66" y="638.8" font-size="13.6" text-anchor="start" fill="#222" textLength="8.18" lengthAdjust="spacingAndGlyphs" stroke="#222" stroke-width="0.25" xml:space="preserve">2</text>
<text x="644.09" y="592.7" font-size="13.6" text-anchor="start" fill="#222" textLength="7.39" lengthAdjust="spacingAndGlyphs" stroke="#222" stroke-width="0.25" xml:space="preserve">4</text>
<text x="643.66" y="546.6" font-size="13.6" text-anchor="start" fill="#222" textLength="8.08" lengthAdjust="spacingAndGlyphs" stroke="#222" stroke-width="0.25" xml:space="preserve">6</text>
<text x="643.78" y="500.6" font-size="13.6" text-anchor="start" fill="#222" textLength="7.94" lengthAdjust="spacingAndGlyphs" stroke="#222" stroke-width="0.25" xml:space="preserve">8</text>
<text x="643.34" y="454.5" font-size="13.6" text-anchor="start" fill="#222" textLength="15.51" lengthAdjust="spacingAndGlyphs" stroke="#222" stroke-width="0.25" xml:space="preserve">10</text>
<text x="643.33" y="408.4" font-size="13.6" text-anchor="start" fill="#222" textLength="15.68" lengthAdjust="spacingAndGlyphs" stroke="#222" stroke-width="0.25" xml:space="preserve">12</text>
<text x="72.78" y="704.0" font-size="13.6" text-anchor="start" fill="#222" textLength="7.48" lengthAdjust="spacingAndGlyphs" stroke="#222" stroke-width="0.25" xml:space="preserve">1</text>
<text x="206.81" y="704.0" font-size="13.6" text-anchor="start" fill="#222" textLength="16.2" lengthAdjust="spacingAndGlyphs" stroke="#222" stroke-width="0.25" xml:space="preserve">10</text>
<text x="341.75" y="704.0" font-size="13.6" text-anchor="start" fill="#222" textLength="23.29" lengthAdjust="spacingAndGlyphs" stroke="#222" stroke-width="0.25" xml:space="preserve">100</text>
<text x="476.66" y="704.0" font-size="13.6" text-anchor="start" fill="#222" textLength="30.42" lengthAdjust="spacingAndGlyphs" stroke="#222" stroke-width="0.25" xml:space="preserve">1000</text>
<text x="611.57" y="704.0" font-size="13.6" text-anchor="start" fill="#222" textLength="37.56" lengthAdjust="spacingAndGlyphs" stroke="#222" stroke-width="0.25" xml:space="preserve">10000</text>
<text x="19.7" y="644.32" font-size="13.2" text-anchor="start" fill="#222" textLength="192.65" lengthAdjust="spacingAndGlyphs" transform="rotate(-90 19.7 644.32)" stroke="#222" stroke-width="0.25" xml:space="preserve">Cumulative Pore Volume  (mL/g)</text>
<text x="675.7" y="657.97" font-size="13.2" text-anchor="start" fill="#222" textLength="71.68" lengthAdjust="spacingAndGlyphs" transform="rotate(-90 675.7 657.97)" stroke="#222" stroke-width="0.25" xml:space="preserve">Incremental</text>
<text x="675.7" y="582.98" font-size="13.2" text-anchor="start" fill="#222" textLength="27.87" lengthAdjust="spacingAndGlyphs" transform="rotate(-90 675.7 582.98)" stroke="#222" stroke-width="0.25" xml:space="preserve">Pore</text>
<text x="675.7" y="551.16" font-size="13.2" text-anchor="start" fill="#222" textLength="43.83" lengthAdjust="spacingAndGlyphs" transform="rotate(-90 675.7 551.16)" stroke="#222" stroke-width="0.25" xml:space="preserve">Volume</text>
<text x="675.7" y="498.83" font-size="13.2" text-anchor="start" fill="#222" textLength="65.46" lengthAdjust="spacingAndGlyphs" transform="rotate(-90 675.7 498.83)" stroke="#222" stroke-width="0.25" xml:space="preserve">(10-3mL/g)</text>
<text x="291.66" y="719.4" font-size="13.2" text-anchor="start" fill="#222" textLength="26.8" lengthAdjust="spacingAndGlyphs" stroke="#222" stroke-width="0.25" xml:space="preserve">Pore</text>
<text x="321.91" y="719.4" font-size="13.2" text-anchor="start" fill="#222" textLength="54.06" lengthAdjust="spacingAndGlyphs" stroke="#222" stroke-width="0.25" xml:space="preserve">Diameter</text>
<text x="383.33" y="719.4" font-size="13.2" text-anchor="start" fill="#222" textLength="28.84" lengthAdjust="spacingAndGlyphs" stroke="#222" stroke-width="0.25" xml:space="preserve">(nm)</text>
<text x="331.47" y="758.5" font-size="20.5" text-anchor="start" fill="#000" style="font-family:'Liberation Serif',serif" font-weight="bold" textLength="25.81" lengthAdjust="spacingAndGlyphs" xml:space="preserve">(b)</text>
<text x="180.91" y="463" font-size="11.5" text-anchor="start" fill="#222" textLength="58.41" lengthAdjust="spacingAndGlyphs" stroke="#222" stroke-width="0.25" xml:space="preserve">Cumulative</text>
<text x="243.36" y="463" font-size="11.5" text-anchor="start" fill="#222" textLength="23.05" lengthAdjust="spacingAndGlyphs" stroke="#222" stroke-width="0.25" xml:space="preserve">pore</text>
<text x="271.06" y="463" font-size="11.5" text-anchor="start" fill="#222" textLength="37.76" lengthAdjust="spacingAndGlyphs" stroke="#222" stroke-width="0.25" xml:space="preserve">volume</text>
<line x1="194.8" y1="469.5" x2="166.3" y2="494.5" stroke="#333" stroke-width="0.8"/>
<path d="M161.4 498.8L164.6 492.6L168.0 496.5z" fill="#111"/>
<text x="122.81" y="608.4" font-size="11.5" text-anchor="start" fill="#222" textLength="61.99" lengthAdjust="spacingAndGlyphs" stroke="#222" stroke-width="0.25" xml:space="preserve">Incremental</text>
<text x="123.13" y="623.5" font-size="11.5" text-anchor="start" fill="#222" textLength="23.9" lengthAdjust="spacingAndGlyphs" stroke="#222" stroke-width="0.25" xml:space="preserve">pore</text>
<text x="150.66" y="623.5" font-size="11.5" text-anchor="start" fill="#222" textLength="37.76" lengthAdjust="spacingAndGlyphs" stroke="#222" stroke-width="0.25" xml:space="preserve">volume</text>
<line x1="197.1" y1="616.7" x2="250.0" y2="636.7" stroke="#333" stroke-width="0.8"/>
<path d="M256.1 639.0L249.1 639.1L250.9 634.3z" fill="#111"/>
<path d="M516.3 439.6l7.0 7.0M516.3 446.6l7.0 -7.0" stroke="#000" stroke-width="1.45" fill="none"/>
<text x="533.46" y="447.3" font-size="13.2" text-anchor="start" fill="#222" textLength="19.72" lengthAdjust="spacingAndGlyphs" stroke="#222" stroke-width="0.25" xml:space="preserve">Ref</text>
<path d="M519.8 471.1h0.0v0.0h0.0z" fill="#fff"/>
<path d="M515.8 471.1h8.0M519.8 467.1v8.0" stroke="#000" stroke-width="1.45" fill="none"/>
<text x="533.34" y="475.5" font-size="13.2" text-anchor="start" fill="#222" textLength="22.01" lengthAdjust="spacingAndGlyphs" stroke="#222" stroke-width="0.25" xml:space="preserve">Mix</text>
<text x="559.04" y="475.5" font-size="13.2" text-anchor="start" fill="#222" textLength="7.98" lengthAdjust="spacingAndGlyphs" stroke="#222" stroke-width="0.25" xml:space="preserve">C</text>
<path d="M507.7 499.4H530" stroke="#000" stroke-width="1.5" stroke-dasharray="1.5 1.9"/>
<text x="533.46" y="503.8" font-size="13.2" text-anchor="start" fill="#222" textLength="19.72" lengthAdjust="spacingAndGlyphs" stroke="#222" stroke-width="0.25" xml:space="preserve">Ref</text>
<path d="M507.7 527.2H531.7" stroke="#000" stroke-width="1.4"/>
<text x="533.34" y="531.6" font-size="13.2" text-anchor="start" fill="#222" textLength="22.01" lengthAdjust="spacingAndGlyphs" stroke="#222" stroke-width="0.25" xml:space="preserve">Mix</text>
<text x="559.04" y="531.6" font-size="13.2" text-anchor="start" fill="#222" textLength="7.98" lengthAdjust="spacingAndGlyphs" stroke="#222" stroke-width="0.25" xml:space="preserve">C</text>
</svg>
</body></html>
